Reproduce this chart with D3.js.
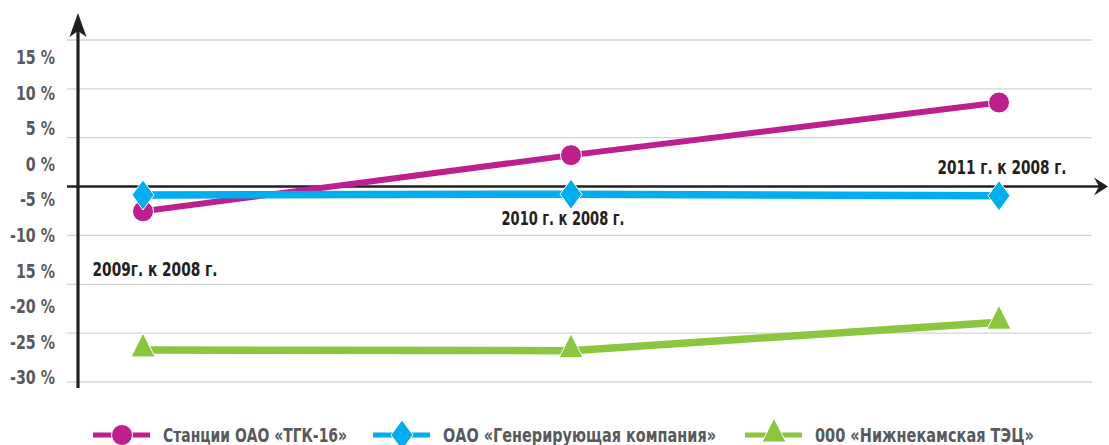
<!DOCTYPE html>
<html>
<head>
<meta charset="utf-8">
<script src="https://cdn.jsdelivr.net/npm/d3@7"></script>
<style>
  body { margin: 0; background: #fff; }
  svg { display: block; }
  text { font-family: 'DejaVu Sans Condensed', 'DejaVu Sans', sans-serif; font-stretch: condensed; font-weight: bold; }
</style>
</head>
<body>
<div id="chart"></div>
<script>
(function () {
	// data
	let periods = ["2009г. к 2008 г.", "2010 г. к 2008 г.", "2011 г. к 2008 г."];
	let tickValues = [15, 10, 5, 0, -5, -10, -15, -20, -25, -30];
	let tickLabels = ["15 %", "10 %", "5 %", "0 %", "-5 %", "-10 %", "15 %", "-20 %", "-25 %", "-30 %"];
	let seriesNames = ["Станции ОАО «ТГК-16»", "ОАО «Генерирующая компания»", "000 «Нижнекамская ТЭЦ»"];
	let tgkValues = [-6.7, 1.2, 8.6];
	let genValues = [-4.4, -4.3, -4.5];
	let nkValues = [-26.2, -26.3, -22.3];
	let gridCount = 8;

	let W = 1109, H = 445;
	let colors = ["#bd1f8c", "#00adee", "#8cc63f"];
	let shapes = ["circle", "diamond", "triangle"];
	let allSeries = [tgkValues, genValues, nkValues];

	let svg = d3.select("#chart").append("svg")
		.attr("width", W).attr("height", H);

	let x = d3.scalePoint().domain(periods).range([143, 999]);
	let y = d3.scaleLinear().domain([15, -30]).range([57, 377]);
	let grid = d3.scaleLinear().domain([0, gridCount - 1]).range([40, 382]);

	// squeeze a text to a given width (the original uses a condensed face)
	function fit(sel, width) {
		sel.attr("textLength", width).attr("lengthAdjust", "spacingAndGlyphs");
	}

	// gridlines
	svg.append("g").selectAll("line")
		.data(d3.range(gridCount))
		.enter().append("line")
		.attr("x1", 67).attr("x2", 1092)
		.attr("y1", d => grid(d)).attr("y2", d => grid(d))
		.style("stroke", "#d4d4d4").style("stroke-width", 1.3);

	// y tick labels
	let yLabels = svg.append("g").selectAll("text")
		.data(tickValues)
		.enter().append("text")
		.attr("x", 55)
		.attr("y", d => y(d))
		.attr("dy", "0.36em")
		.attr("text-anchor", "end")
		.style("font-size", "20px")
		.style("fill", "#58595b")
		.text((d, i) => tickLabels[i]);
	let k = 45 / yLabels.nodes()[9].getComputedTextLength();
	yLabels.each(function () {
		fit(d3.select(this), this.getComputedTextLength() * k);
	});

	// axes with arrows
	let axisY = grid(3);
	svg.append("line")
		.attr("x1", 67).attr("x2", 1100)
		.attr("y1", axisY).attr("y2", axisY)
		.style("stroke", "#231f20").style("stroke-width", 2.5);
	svg.append("path")
		.attr("d", "M1108," + axisY + " L1094," + (axisY - 9) + " L1099," + axisY + " L1094," + (axisY + 9) + " Z")
		.style("fill", "#231f20");
	svg.append("line")
		.attr("x1", 78).attr("x2", 78)
		.attr("y1", 25).attr("y2", 388)
		.style("stroke", "#231f20").style("stroke-width", 3.2);
	svg.append("path")
		.attr("d", "M78,13 L86.5,37 L78,31 L69.5,37 Z")
		.style("fill", "#231f20");

	// period labels
	let labelPos = [{dx: 12, y: 269, w: 125}, {dx: -8, y: 218, w: 123}, {dx: 3, y: 167, w: 129}];
	svg.append("g").selectAll("text")
		.data(periods)
		.enter().append("text")
		.attr("x", (d, i) => x(d) + labelPos[i].dx)
		.attr("y", (d, i) => labelPos[i].y)
		.attr("dy", "0.36em")
		.attr("text-anchor", "middle")
		.style("font-size", "19px")
		.style("fill", "#231f20")
		.text(d => d)
		.each(function (d, i) { fit(d3.select(this), labelPos[i].w); });

	function drawMarker(g, shape, cx, cy, color) {
		if (shape == "circle") {
			g.append("circle").attr("cx", cx).attr("cy", cy).attr("r", 10.5)
				.style("fill", color).style("stroke", "#fff").style("stroke-width", 1);
		} else if (shape == "diamond") {
			let w = 11, h = 15;
			g.append("path")
				.attr("d", "M" + cx + "," + (cy - h) + " L" + (cx + w) + "," + cy + " L" + cx + "," + (cy + h) + " L" + (cx - w) + "," + cy + " Z")
				.style("fill", color).style("stroke", "#fff").style("stroke-width", 1);
		} else {
			let w = 12, top = 17, bot = 7;
			g.append("path")
				.attr("d", "M" + cx + "," + (cy - top) + " L" + (cx + w) + "," + (cy + bot) + " L" + (cx - w) + "," + (cy + bot) + " Z")
				.style("fill", color).style("stroke", "#fff").style("stroke-width", 1);
		}
	}

	// series lines and markers
	let line = d3.line().x((d, i) => x(periods[i])).y(d => y(d));
	allSeries.forEach(function (vals, si) {
		let g = svg.append("g");
		g.append("path")
			.datum(vals)
			.attr("d", line)
			.style("fill", "none")
			.style("stroke", colors[si])
			.style("stroke-width", si == 0 ? 6 : 7.5);
		vals.forEach(function (v, i) {
			drawMarker(g, shapes[si], x(periods[i]), y(v), colors[si]);
		});
	});

	// legend
	let legendX = [93, 373, 745];
	let legendW = [184, 273, 219];
	let legendY = 435;
	seriesNames.forEach(function (name, i) {
		let g = svg.append("g");
		g.append("line")
			.attr("x1", legendX[i]).attr("x2", legendX[i] + 57)
			.attr("y1", legendY).attr("y2", legendY)
			.style("stroke", colors[i]).style("stroke-width", 5);
		drawMarker(g, shapes[i], legendX[i] + 29, legendY, colors[i]);
		g.append("text")
			.attr("x", legendX[i] + 70)
			.attr("y", legendY)
			.attr("dy", "0.36em")
			.style("font-size", "20px")
			.style("fill", "#58595b")
			.text(name)
			.call(fit, legendW[i]);
	});
})();
</script>
</body>
</html>
